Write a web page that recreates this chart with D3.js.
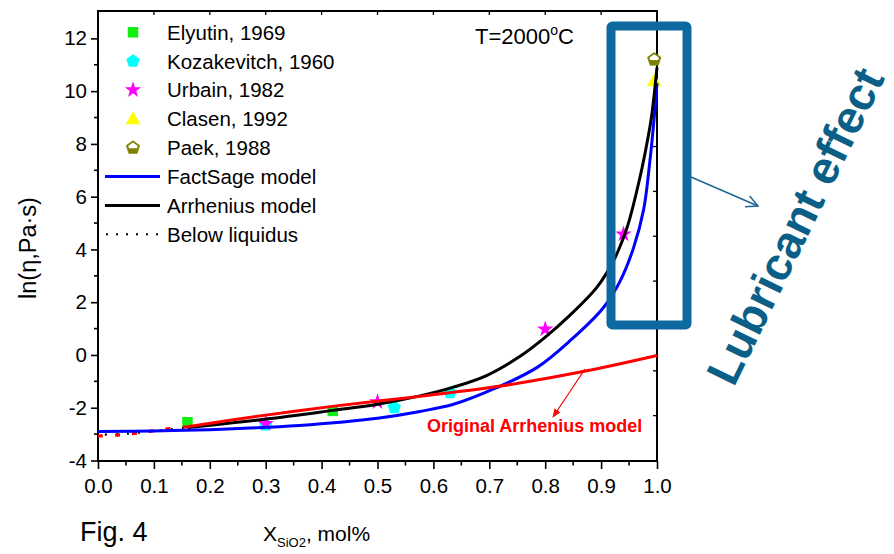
<!DOCTYPE html>
<html>
<head>
<meta charset="utf-8">
<script src="https://cdn.jsdelivr.net/npm/d3@7"></script>
<style>
  html, body { margin: 0; padding: 0; background: #fff; }
  svg { display: block; font-family: "Liberation Sans", Arial, sans-serif; }
</style>
</head>
<body>
<svg id="chart" width="894" height="554"></svg>
<script>
// Viscosity of SiO2-containing melt at 2000 °C versus SiO2 mole fraction
const xTickValues = [0, 0.1, 0.2, 0.3, 0.4, 0.5, 0.6, 0.7, 0.8, 0.9, 1.0];
const xTickLabels = ["0.0", "0.1", "0.2", "0.3", "0.4", "0.5", "0.6", "0.7", "0.8", "0.9", "1.0"];
const yTickValues = [-4, -2, 0, 2, 4, 6, 8, 10, 12];
const yTickLabels = ["-4", "-2", "0", "2", "4", "6", "8", "10", "12"];

// Experimental data
const elyutinX = [0.16, 0.42];
const elyutinY = [-2.55, -2.12];
const kozakevitchX = [0.30, 0.53, 0.63];
const kozakevitchY = [-2.65, -1.99, -1.43];
const urbainX = [0.30, 0.50, 0.80, 0.94];
const urbainY = [-2.60, -1.78, 0.98, 4.58];
const clasenX = [0.995];
const clasenY = [10.35];
const paekX = [0.995];
const paekY = [11.2];

// Model curves
const factsageX = [0, 0.1, 0.2, 0.284, 0.36, 0.433, 0.5, 0.576, 0.636, 0.713, 0.785, 0.844, 0.904, 0.934, 0.958, 0.976, 0.987, 0.995, 1.0];
const factsageY = [-2.9, -2.88, -2.83, -2.76, -2.67, -2.55, -2.4, -2.14, -1.87, -1.24, -0.48, 0.53, 1.79, 2.8, 4.06, 5.5, 7.3, 9.0, 10.3];
const arrheniusX = [0.16, 0.3, 0.42, 0.5, 0.576, 0.636, 0.695, 0.755, 0.797, 0.844, 0.892, 0.922, 0.946, 0.967, 0.98, 0.99, 1.0];
const arrheniusY = [-2.75, -2.43, -2.1, -1.87, -1.55, -1.22, -0.78, -0.05, 0.62, 1.5, 2.55, 3.56, 4.8, 6.5, 7.8, 9.0, 10.9];
const originalX = [0.16, 0.3, 0.43, 0.58, 0.72, 0.87, 1.0];
const originalY = [-2.72, -2.28, -1.92, -1.56, -1.18, -0.62, -0.02];
// Below liquidus extensions
const arrheniusLowX = [0, 0.04, 0.08, 0.12, 0.16];
const arrheniusLowY = [-3.02, -3.0, -2.93, -2.84, -2.75];
const originalLowX = [0, 0.04, 0.08, 0.12, 0.16];
const originalLowY = [-3.07, -3.03, -2.93, -2.81, -2.72];

const svg = d3.select("#chart");
const plot = { left: 98, right: 657, top: 11, bottom: 461 };

const x = d3.scaleLinear().domain([0, 1]).range([plot.left, plot.right]);
const y = d3.scaleLinear().domain([-4, 13]).range([460.5, 12]);

const zip = (xs, ys) => xs.map((v, i) => [v, ys[i]]);
const line = d3.line().x(d => x(d[0])).y(d => y(d[1])).curve(d3.curveCatmullRom.alpha(0.5));

// Axes
const xAxis = d3.axisBottom(x).tickValues(xTickValues).tickFormat((d, i) => xTickLabels[i]).tickSize(8).tickPadding(9);
const gx = svg.append("g").attr("transform", `translate(0,${plot.bottom})`).call(xAxis);
gx.select(".domain").remove();
gx.selectAll("line").attr("stroke", "#000").attr("stroke-width", 1.6);
gx.selectAll("text").attr("font-size", 20.5).attr("fill", "#000").attr("font-family", "Liberation Sans, Arial, sans-serif");

const xMinor = d3.range(0.05, 1, 0.1);
svg.append("g").selectAll("line").data(xMinor).join("line")
  .attr("x1", d => x(d)).attr("x2", d => x(d))
  .attr("y1", plot.bottom).attr("y2", plot.bottom + 4.5)
  .attr("stroke", "#000").attr("stroke-width", 1.6);

const yAxis = d3.axisLeft(y).tickValues(yTickValues).tickFormat((d, i) => yTickLabels[i]).tickSize(7).tickPadding(4);
const gy = svg.append("g").attr("transform", `translate(${plot.left},0)`).call(yAxis);
gy.select(".domain").remove();
gy.selectAll("line").attr("stroke", "#000").attr("stroke-width", 1.6);
gy.selectAll("text").attr("font-size", 20.5).attr("fill", "#000").attr("font-family", "Liberation Sans, Arial, sans-serif");

const yMinor = d3.range(-3, 13, 2);
svg.append("g").selectAll("line").data(yMinor).join("line")
  .attr("x1", plot.left - 4).attr("x2", plot.left)
  .attr("y1", d => y(d)).attr("y2", d => y(d))
  .attr("stroke", "#000").attr("stroke-width", 1.6);

// Top and right ticks
svg.append("g").selectAll("line").data(xTickValues.slice(1, -1)).join("line")
  .attr("x1", d => x(d)).attr("x2", d => x(d))
  .attr("y1", plot.top).attr("y2", plot.top + 4)
  .attr("stroke", "#000").attr("stroke-width", 1.3);
svg.append("g").selectAll("line").data(d3.range(1, 10).map(k => -4 + 1.7 * k)).join("line")
  .attr("x1", plot.right - 4).attr("x2", plot.right)
  .attr("y1", d => y(d)).attr("y2", d => y(d))
  .attr("stroke", "#000").attr("stroke-width", 1.3);

// Frame
svg.append("rect")
  .attr("x", plot.left).attr("y", plot.top)
  .attr("width", plot.right - plot.left).attr("height", plot.bottom - plot.top)
  .attr("fill", "none").attr("stroke", "#000").attr("stroke-width", 2);

// Markers
const sym = {
  square: d3.symbol().type(d3.symbolSquare).size(110),
  star: d3.symbol().type(d3.symbolStar).size(85),
  triangle: d3.symbol().type(d3.symbolTriangle).size(95)
};
function pentagonPath(r) {
  const pts = d3.range(5).map(k => {
    const a = -Math.PI / 2 + k * 2 * Math.PI / 5;
    return [r * Math.cos(a), r * Math.sin(a)];
  });
  return "M" + pts.map(p => p.join(",")).join("L") + "Z";
}
function drawPaek(g, cx, cy) {
  g.append("path").attr("d", pentagonPath(7)).attr("transform", `translate(${cx},${cy})`)
    .attr("fill", "#808000").attr("stroke", "#808000").attr("stroke-width", 0.8);
  g.append("path").attr("d", "M0,-5.2L4.8,-1.8L4,0.6L-4,0.6L-4.8,-1.8Z")
    .attr("transform", `translate(${cx},${cy})`).attr("fill", "#fff");
}

const markers = svg.append("g");
markers.selectAll(".ely").data(zip(elyutinX, elyutinY)).join("path")
  .attr("d", sym.square).attr("transform", d => `translate(${x(d[0])},${y(d[1])})`).attr("fill", "#11ee11");
markers.selectAll(".koz").data(zip(kozakevitchX, kozakevitchY)).join("path")
  .attr("d", pentagonPath(7)).attr("transform", d => `translate(${x(d[0])},${y(d[1])})`).attr("fill", "#00ffff");
markers.selectAll(".urb").data(zip(urbainX, urbainY)).join("path")
  .attr("d", sym.star).attr("transform", d => `translate(${x(d[0])},${y(d[1])})`).attr("fill", "#ff00ff");
markers.selectAll(".cla").data(zip(clasenX, clasenY)).join("path")
  .attr("d", sym.triangle).attr("transform", d => `translate(${x(d[0])},${y(d[1])})`).attr("fill", "#ffff00");
zip(paekX, paekY).forEach(d => drawPaek(markers, x(d[0]), y(d[1])));

// Curves
const curves = svg.append("g").attr("fill", "none");
curves.append("path").attr("d", line(zip(arrheniusLowX, arrheniusLowY)))
  .attr("stroke", "#000").attr("stroke-width", 2.2).attr("stroke-dasharray", "2,9").attr("stroke-dashoffset", -7);
curves.append("path").attr("d", line(zip(originalLowX, originalLowY)))
  .attr("stroke", "#ff0000").attr("stroke-width", 3.2).attr("stroke-dasharray", "5,12");
curves.append("path").attr("d", line(zip(factsageX, factsageY)))
  .attr("stroke", "#0000ff").attr("stroke-width", 3);
curves.append("path").attr("d", line(zip(arrheniusX, arrheniusY)))
  .attr("stroke", "#000").attr("stroke-width", 3);
curves.append("path").attr("d", line(zip(originalX, originalY)))
  .attr("stroke", "#ff0000").attr("stroke-width", 3);

// Legend
const legend = svg.append("g").attr("font-size", 20.5).attr("fill", "#000");
const legendRows = [
  { label: "Elyutin, 1969", kind: "square" },
  { label: "Kozakevitch, 1960", kind: "pentagon" },
  { label: "Urbain, 1982", kind: "star" },
  { label: "Clasen, 1992", kind: "triangle" },
  { label: "Paek, 1988", kind: "paek" },
  { label: "FactSage model", kind: "blue" },
  { label: "Arrhenius model", kind: "black" },
  { label: "Below liquidus", kind: "dots" }
];
const legendY0 = 32.3, legendDy = 28.85, symX = 133;
legendRows.forEach((r, i) => {
  const cy = legendY0 + i * legendDy;
  if (r.kind === "square") legend.append("path").attr("d", sym.square).attr("transform", `translate(${symX},${cy})`).attr("fill", "#11ee11");
  if (r.kind === "pentagon") legend.append("path").attr("d", pentagonPath(7)).attr("transform", `translate(${symX},${cy})`).attr("fill", "#00ffff");
  if (r.kind === "star") legend.append("path").attr("d", sym.star).attr("transform", `translate(${symX},${cy})`).attr("fill", "#ff00ff");
  if (r.kind === "triangle") legend.append("path").attr("d", sym.triangle).attr("transform", `translate(${symX},${cy + 1})`).attr("fill", "#ffff00");
  if (r.kind === "paek") drawPaek(legend, symX, cy);
  if (r.kind === "blue") legend.append("line").attr("x1", 105).attr("x2", 160).attr("y1", cy).attr("y2", cy).attr("stroke", "#0000ff").attr("stroke-width", 3);
  if (r.kind === "black") legend.append("line").attr("x1", 105).attr("x2", 160).attr("y1", cy).attr("y2", cy).attr("stroke", "#000").attr("stroke-width", 3);
  if (r.kind === "dots") legend.append("line").attr("x1", 106).attr("x2", 162).attr("y1", cy).attr("y2", cy).attr("stroke", "#000").attr("stroke-width", 2).attr("stroke-dasharray", "2,8");
  legend.append("text").attr("x", 167).attr("y", cy).attr("dy", "0.36em").text(r.label);
});

// Temperature note
const tNote = svg.append("text").attr("x", 475).attr("y", 44).attr("font-size", 22).attr("fill", "#000");
tNote.append("tspan").text("T=2000");
tNote.append("tspan").attr("font-size", 14).attr("dy", -9).text("o");
tNote.append("tspan").attr("dy", 9).text("C");

// Axis titles
svg.append("text").attr("transform", "translate(36,248) rotate(-90)")
  .attr("text-anchor", "middle").attr("font-size", 23.5).attr("fill", "#000").text("ln(η,Pa·s)");

const xTitle = svg.append("text").attr("x", 263).attr("y", 541).attr("font-size", 21).attr("fill", "#000");
xTitle.append("tspan").text("X");
xTitle.append("tspan").attr("font-size", 13).attr("dy", 6).text("SiO2");
xTitle.append("tspan").attr("dy", -6).text(", mol%");

svg.append("text").attr("x", 80).attr("y", 541).attr("font-size", 27).attr("fill", "#000").text("Fig. 4");

// Annotation of the original Arrhenius model
const defs = svg.append("defs");
defs.append("marker").attr("id", "redHead").attr("viewBox", "0 0 10 10").attr("refX", 9).attr("refY", 5)
  .attr("markerWidth", 9).attr("markerHeight", 9).attr("markerUnits", "userSpaceOnUse").attr("orient", "auto")
  .append("path").attr("d", "M0,1L10,5L0,9Z").attr("fill", "#ff0000");
svg.append("line").attr("x1", 585).attr("y1", 369).attr("x2", 553).attr("y2", 417)
  .attr("stroke", "#ff0000").attr("stroke-width", 1.2).attr("marker-end", "url(#redHead)");
svg.append("text").attr("x", 427).attr("y", 432).attr("font-size", 18).attr("font-weight", "bold")
  .attr("fill", "#ff0000").text("Original Arrhenius model");

// Highlight of the steep rise near pure SiO2
svg.append("rect").attr("x", 611).attr("y", 26).attr("width", 76).attr("height", 299).attr("rx", 1.5)
  .attr("fill", "none").attr("stroke", "#0e69a1").attr("stroke-width", 9);
defs.append("marker").attr("id", "blueHead").attr("viewBox", "0 0 12 12").attr("refX", 11).attr("refY", 6)
  .attr("markerWidth", 14).attr("markerHeight", 14).attr("markerUnits", "userSpaceOnUse").attr("orient", "auto")
  .append("path").attr("d", "M1,1L11,6L1,11").attr("fill", "none").attr("stroke", "#1d6790").attr("stroke-width", 1.3);
svg.append("line").attr("x1", 691).attr("y1", 177).attr("x2", 758).attr("y2", 206)
  .attr("stroke", "#1d6790").attr("stroke-width", 1.6).attr("marker-end", "url(#blueHead)");
svg.append("text").attr("transform", "translate(795,226) rotate(-64)")
  .attr("text-anchor", "middle").attr("dy", "0.35em").attr("font-size", 46).attr("font-weight", "bold")
  .attr("fill", "#0b5f87").text("Lubricant effect");
</script>
</body>
</html>
